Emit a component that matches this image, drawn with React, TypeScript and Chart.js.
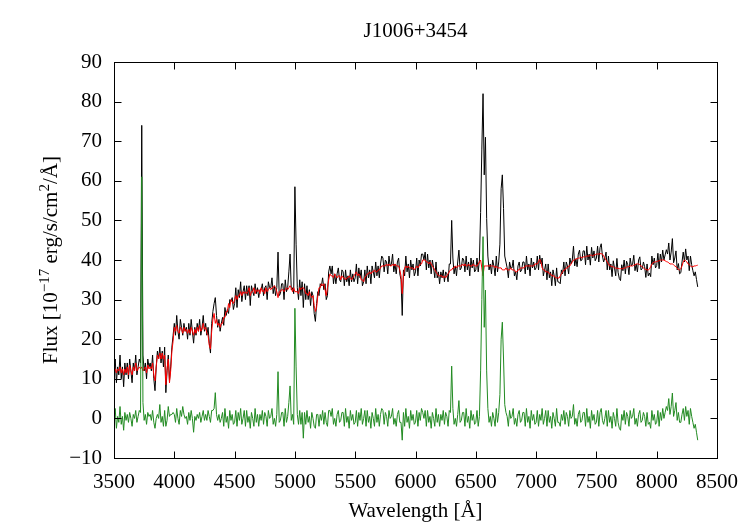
import React, { useEffect, useRef } from "react";
import { Chart, registerables } from "chart.js";

Chart.register(...registerables);

const TITLE = "J1006+3454";
const X_LABEL = "Wavelength [Å]";
const Y_LABEL_PARTS = [
  { text: "Flux [10", sup: false },
  { text: "\u221217", sup: true },
  { text: " erg/s/cm", sup: false },
  { text: "2", sup: true },
  { text: "/Å]", sup: false },
];

// wavelength grid (categories): first sample and spacing in Å
const WAVE_START = 3500;
const WAVE_STEP = 10;

const X_TICKS = [3500, 4000, 4500, 5000, 5500, 6000, 6500, 7000, 7500, 8000, 8500];
const Y_TICKS = [-10, 0, 10, 20, 30, 40, 50, 60, 70, 80, 90];

// observed flux (black), one row = 100 Å
const OBSERVED = [
  12, 15, 9, 13, 11, 16, 10, 13, 8, 14,
  11, 14, 10, 15, 12, 9, 14, 12, 16, 11,
  13, 15, 14, 74, 16, 12, 14, 10, 15, 13,
  14, 12, 16, 10, 7, 13, 17, 15, 18, 14,
  17, 13, 18, 6.5, 12, 16, 9.5, 13, 18, 21,
  24, 21, 26, 22, 20, 25, 23, 21, 24, 22,
  23, 20, 24, 21, 25, 22, 19, 23, 21, 24,
  22, 25, 21, 23, 26, 22, 24, 21, 23, 19,
  16.5, 24, 27, 29, 30.5, 26, 23, 25, 22, 24,
  25.5, 23.5, 28, 26, 27.5, 26.5, 30, 29.5, 30.5, 27.5,
  29, 33, 28, 32.5, 30.5, 34.5, 29.5, 32, 33.5, 30,
  33.5, 31, 33.5, 28.5, 33.5, 32, 31, 34, 31.5, 33,
  30.5, 32.5, 32.5, 34, 31, 33, 33.5, 30, 34.5, 33,
  33, 35.5, 31.5, 33.5, 31, 33, 42, 31, 31.5, 34,
  34, 30, 35, 32, 33, 37, 41.5, 32.5, 33, 31.5,
  58.5, 44, 33, 30, 35, 31, 34.5, 28, 34, 30,
  33.5, 30, 32.5, 28.5, 32, 31, 26.5, 24.5, 29, 32,
  31, 34, 33.5, 35.5, 32.5, 34, 30, 31, 37, 38.5,
  36.5, 38.5, 34, 36.5, 34, 36.5, 38, 35, 34.5, 37.5,
  37, 33.5, 37.5, 34.5, 36, 33.5, 37.5, 34.5, 36.5, 34.5,
  35.5, 39, 34, 38, 35.5, 37.5, 33.5, 34.5, 37.5, 34,
  38.5, 35.5, 37.5, 34, 38.5, 37, 35.5, 39.5, 36, 38.5,
  35.5, 39, 41, 40.5, 37, 40, 39.5, 36.5, 41, 38.5,
  39, 41.5, 37, 39, 36.5, 39.5, 40.5, 36.5, 35, 26,
  37.5, 36, 41, 37, 39, 35.5, 40, 37.5, 39, 36,
  37, 40.5, 36, 40, 38.5, 41.5, 41.5, 40, 42, 37.5,
  41.5, 38, 40, 36.5, 40, 38, 35.5, 39.5, 35.5, 37,
  34, 37, 35.5, 37.5, 34.5, 37, 36.5, 34.5, 39, 39,
  50, 40.5, 36.5, 38.5, 36, 39.5, 42.5, 37.5, 38, 40.5,
  40, 37, 41, 37.5, 39.5, 36, 40.5, 38, 40, 37,
  37.5, 40.5, 37, 40, 52, 68, 82, 61.5, 71, 50.5,
  41, 37.5, 39, 36.5, 40, 38.5, 36, 41, 37, 39.5,
  44, 58, 61.5, 53, 41, 39.5, 38, 35.5, 39.5, 38,
  38, 40, 36, 37, 35, 38.5, 39.5, 37, 37.5, 39.5,
  39.5, 36.5, 41, 37.5, 39, 36, 40.5, 38, 39.5, 37.5,
  38, 41, 37.5, 41.2, 39, 40.5, 36, 37.5, 39, 35,
  39, 35.5, 37, 33.5, 37.5, 36, 33.5, 38, 34.5, 34.4,
  34, 37.5, 36.5, 39.5, 36, 39.5, 38.5, 36.5, 40.5, 39,
  40, 43.5, 38.5, 40.3, 38.3, 41.5, 42.5, 39.8, 40, 42.3,
  42.3, 38.8, 43.5, 40, 41.5, 38.7, 43.2, 40.5, 42.3, 39.8,
  40.5, 43.5, 39.5, 43.1, 44.1, 41, 39.5, 40.5, 42, 37.5,
  41, 37.5, 39, 35.8, 39.8, 38, 36, 40.4, 36.9, 35.3,
  34.8, 38.8, 37.3, 40, 36.5, 39.7, 38.8, 36.3, 40.5, 38.5,
  39, 41.2, 37.3, 39, 37, 40, 40.8, 37.5, 37.8, 39.5,
  38.3, 35.6, 39, 36, 36.7, 35.8, 41, 38.8, 40.5, 38,
  38.6, 41.7, 37.8, 41.5, 39.5, 42.5, 40, 41.3, 42.6, 41.5,
  44.3, 40, 42, 45.4, 39.3, 40.5, 42.3, 37.5, 39.1, 36.5,
  36.8, 39.5, 42, 39.5, 42.8, 40, 41, 37.3, 41, 38.8,
  37.3, 36, 37, 35.1, 33.2,
];

// model fit (red)
const MODEL = [
  12, 12.5, 11.5, 12.5, 12, 13, 11.5, 12.5, 11, 12.5,
  11.5, 13, 11, 13.5, 12, 11, 13, 12, 14, 12,
  12.5, 13, 12.5, 13, 12, 12.5, 13, 11.5, 13.5, 12.5,
  13, 12.5, 14, 11, 9.5, 13, 16, 15, 16.5, 15,
  16.5, 15, 16, 8.5, 12.5, 15, 9, 12, 17, 19.5,
  23, 22, 23.5, 22, 21.5, 23, 22.5, 21.5, 23, 22,
  22.5, 21.5, 22.5, 21.5, 23, 22, 21, 22.5, 21.5, 23,
  22, 23.5, 22, 22.5, 24, 22.5, 23, 21.5, 21, 18.5,
  17.5, 22, 25, 26.5, 24, 25, 23.5, 24, 23, 24,
  24, 25.5, 25.5, 27, 27, 29, 28, 30, 29.5, 29,
  30, 31, 30, 31, 31, 32, 31, 32, 31.5, 32,
  31.5, 32, 33, 31, 32, 32, 33, 31.5, 32.5, 32,
  32.5, 31.5, 33, 32, 32.5, 31.5, 33, 32, 32.5, 33,
  32.5, 33, 33, 33.5, 33, 32, 30.5, 32, 32, 32.5,
  32.5, 32, 32.5, 33, 32.5, 33, 33.5, 33, 32, 33,
  32, 32, 32, 31.5, 33, 32.5, 33, 33, 32.5, 31.5,
  31.5, 31, 32, 31, 30.5, 31, 28.5, 27, 28, 31,
  33, 33, 34, 33.5, 34, 32.5, 31, 33, 35, 36.5,
  36, 36, 35.5, 36.5, 36, 35.5, 36, 36, 35, 36,
  35.5, 35.5, 35, 35.5, 35.5, 36, 35.5, 35, 35.5, 36,
  36.5, 37, 36, 36.5, 36, 35, 35, 34.5, 35.5, 36,
  36.5, 36.5, 37, 36.5, 37, 37, 37.5, 37, 37, 37.5,
  37.5, 38, 38.5, 38.5, 38.5, 38.5, 39, 38.5, 39, 38.5,
  38.5, 39, 38.5, 39, 38.5, 38.5, 38.5, 37.5, 36, 31.5,
  36, 38, 38.5, 38, 38.5, 38, 38, 38, 38, 37.5,
  38, 38.5, 38, 38.5, 39, 39, 40, 40, 40, 39.5,
  39.5, 39, 39.5, 39, 38.5, 38, 37.5, 37, 36.5, 36,
  36, 36, 36, 35.5, 36, 35.5, 36, 36.5, 37, 37.5,
  37.5, 38, 38, 38.5, 38, 38.5, 38.5, 38.5, 38.5, 39,
  38.5, 39, 38.5, 38.5, 39, 38.5, 38.5, 38.5, 39, 38.5,
  38.5, 38.5, 39, 39.5, 40, 38, 36, 38.5, 38.5, 38.5,
  38.5, 38.5, 38.5, 38.5, 38.5, 38.5, 38, 38.5, 38, 38,
  38, 38, 37.5, 37.5, 37.5, 38, 37.5, 37.5, 37.5, 38,
  37.5, 37.5, 37.5, 37, 37, 37.5, 37.5, 38, 38, 38,
  38, 38.5, 38.5, 38.5, 38.5, 38.5, 38.5, 38.5, 38.5, 39,
  39, 39, 39.5, 40.2, 39.5, 38, 37.5, 37.5, 37, 37,
  37, 36.5, 36.5, 36, 36, 36, 35.5, 35.5, 35.5, 35.4,
  36, 36.5, 37, 37.5, 37.5, 38, 38, 38.5, 38.5, 39,
  39.5, 40, 40, 40.3, 40.3, 40.5, 40.5, 40.8, 40.5, 40.8,
  40.8, 40.8, 41, 41, 41, 41.2, 41.2, 41, 41.3, 41.3,
  41.5, 41.5, 41.5, 41.6, 41.6, 41.5, 41, 40.5, 40, 39.5,
  39, 38.5, 38.5, 38.3, 38.3, 38, 38, 37.9, 37.9, 37.8,
  37.8, 37.8, 37.8, 38, 38, 38.2, 38.3, 38.3, 38.5, 38.5,
  38.5, 38.7, 38.8, 39, 39, 39, 38.8, 38.5, 38.3, 38,
  37.8, 37.6, 37.5, 37.5, 37.7, 38.3, 39, 39.3, 39.5, 39.5,
  39.6, 39.7, 39.8, 40, 40, 40, 40, 39.8, 39.6, 39.5,
  39.3, 39, 39, 39, 38.8, 38.5, 38.3, 38, 37.6, 37.5,
  37.8, 38.5, 39.5, 40, 39.8, 39.5, 39, 38.8, 38.5, 38.3,
  38.3, 38.5, 38.5, 38.6, 38.7,
];

// residual = emission-line spectrum (green)
const RESIDUAL = [
  0, 2.5, -2.5, 0.5, -1, 3, -1.5, 0.5, -3, 1.5,
  -0.5, 1, -1, 1.5, 0, -2, 1, 0, 2, -1,
  0.5, 2, 1.5, 61, 4, -0.5, 1, -1.5, 1.5, 0.5,
  1, -0.5, 2, -1, -2.5, 0, 1, 0, 3.5, -1,
  0.5, -2, 2, -2, -0.5, 3, 0.5, 1, 1, 1.5,
  1, -1, 2.5, 0, -1.5, 2, 0.5, 3, 1, 0,
  0.5, -1.5, 1.5, -0.5, 2, 0, -3.5, 0.5, -0.5, 1,
  0, 1.5, -1, 0.5, 2, -0.5, 1, -0.5, 2, 0.5,
  -1, 2, 2, 2.5, 6.5, 1, -0.5, 1, -1, 0,
  1.5, -2, 2.5, -1, 0.5, -2.5, 2, -0.5, 1, -1.5,
  -1, 2, -2, 1.5, -0.5, 2.5, -1.5, 0, 2, -2,
  2, -1, 0.5, -2.5, 1.5, 0, -2, 2.5, -1, 1,
  -2, 1, -0.5, 2, -1.5, 1.5, 0.5, -2, 2, 0,
  0.5, 2.5, -1.5, 0, -2, 1, 11.8, -1, -0.5, 1.5,
  1.5, -2, 2.5, -1, 0.5, 4, 8.2, -0.5, 1, -1.5,
  27.8, 13, 1, -1.5, 2, -1.5, 1.5, -5, 1.5, -1.5,
  2, -1, 0.5, -2.5, 1.5, 0, -2, -2.5, 1, 1,
  -2, 1, -0.5, 2, -1.5, 1.5, -1, -2, 2, 2,
  0.5, 2.5, -1.5, 0, -2, 1, 2, -1, -0.5, 1.5,
  1.5, -2, 2.5, -1, 0.5, -2.5, 2, -0.5, 1, -1.5,
  -1, 2, -2, 1.5, -0.5, 2.5, -1.5, 0, 2, -2,
  2, -1, 0.5, -2.5, 1.5, 0, -2, 2.5, -1, 1,
  -2, 1, 2.5, 2, -1.5, 1.5, 0.5, -2, 2, 0,
  0.5, 2.5, -1.5, 0, -2, 1, 2, -1, -1, -5.5,
  1.5, -2, 2.5, -1, 0.5, -2.5, 2, -0.5, 1, -1.5,
  -1, 2, -2, 1.5, -0.5, 2.5, 1.5, 0, 2, -2,
  2, -1, 0.5, -2.5, 1.5, 0, -2, 2.5, -1, 1,
  -2, 1, -0.5, 2, -1.5, 1.5, 0.5, -2, 2, 1.5,
  13.2, 2.5, -1.5, 0, -2, 1, 4.5, -1, -0.5, 1.5,
  1.5, -2, 2.5, -1, 0.5, -2.5, 2, -0.5, 1, -1.5,
  -1, 2, -2, 0.5, 12, 30, 45.9, 23, 32.4, 12,
  2.5, -1, 0.5, -2, 1.5, 0, -2, 2.5, -1, 1.5,
  6, 20, 24.3, 15, 3.5, 1.5, 0.5, -2, 2, 0,
  0.5, 2.5, -1.5, 0, -2, 1, 2, -1, -0.5, 1.5,
  1.5, -2, 2.5, -1, 0.5, -2.5, 2, -0.5, 1, -1.5,
  -1, 2, -2, 1, -0.5, 2.5, -1.5, 0, 2, -2,
  2, -1, 0.5, -2.5, 1.5, 0, -2, 2.5, -1, -1,
  -2, 1, -0.5, 2, -1.5, 1.5, 0.5, -2, 2, 0,
  0.5, 3.5, -1.5, 0, -2, 1, 2, -1, -0.5, 1.5,
  1.5, -2, 2.5, -1, 0.5, -2.5, 2, -0.5, 1, -1.5,
  -1, 2, -2, 1.5, 2.5, -0.5, -1.5, 0, 2, -2,
  2, -1, 0.5, -2.5, 1.5, 0, -2, 2.5, -1, -2.5,
  -3, 1, -0.5, 2, -1.5, 1.5, 0.5, -2, 2, 0,
  0.5, 2.5, -1.5, 0, -2, 1, 2, -1, -0.5, 1.5,
  0.5, -2, 1.5, -1.5, -1, -2.5, 2, -0.5, 1, -1.5,
  -1, 2, -2, 1.5, -0.5, 2.5, 0, 1.5, 3, 2,
  5, 1, 3, 6.4, 0.5, 2, 4, -0.5, 1.5, -1,
  -1, 1, 2.5, -0.5, 3, 0.5, 2, -1.5, 2.5, 0.5,
  -1, -2.5, -1.5, -3.5, -5.5,
];

const FONT = '"Liberation Serif", "Times New Roman", Times, serif';
const FONT_SIZE = 21;
const SUP_SIZE = 15;

export default function App() {
  const ref = useRef<HTMLCanvasElement | null>(null);

  useEffect(() => {
    const canvas = ref.current;
    if (!canvas) return;
    const wave = OBSERVED.map((_, i) => WAVE_START + i * WAVE_STEP);
    const toPoints = (arr: number[]) => arr.map((v, i) => ({ x: wave[i], y: v }));

    const framePlugin = {
      id: "gnuFrame",
      beforeDraw(chart: any) {
        const ctx = chart.ctx;
        ctx.save();
        ctx.fillStyle = "#ffffff";
        ctx.fillRect(0, 0, chart.width, chart.height);
        ctx.restore();
      },
      afterDraw(chart: any) {
        const ctx = chart.ctx;
        const a = chart.chartArea;
        const xs = chart.scales.x;
        const ys = chart.scales.y;
        const L = Math.round(a.left) + 0.5;
        const R = Math.round(a.right) + 0.5;
        const T = Math.round(a.top) + 0.5;
        const B = Math.round(a.bottom) + 0.5;
        const tick = 7;
        ctx.save();
        ctx.strokeStyle = "#000";
        ctx.lineWidth = 1;
        ctx.beginPath();
        X_TICKS.forEach((v) => {
          const px = Math.round(xs.getPixelForValue(v)) + 0.5;
          ctx.moveTo(px, B);
          ctx.lineTo(px, B - tick);
          ctx.moveTo(px, T);
          ctx.lineTo(px, T + tick);
        });
        Y_TICKS.forEach((v) => {
          const py = Math.round(ys.getPixelForValue(v)) + 0.5;
          ctx.moveTo(L, py);
          ctx.lineTo(L + tick, py);
          ctx.moveTo(R, py);
          ctx.lineTo(R - tick, py);
        });
        ctx.stroke();
        ctx.strokeRect(L, T, R - L, B - T);

        ctx.fillStyle = "#000";
        ctx.font = `${FONT_SIZE}px ${FONT}`;
        ctx.textAlign = "center";
        ctx.textBaseline = "middle";
        const cx = (a.left + a.right) / 2;
        ctx.fillText(TITLE, cx, 31);
        ctx.fillText(X_LABEL, cx, 511);

        // rotated y label with superscripts
        const widths = Y_LABEL_PARTS.map((p) => {
          ctx.font = `${p.sup ? SUP_SIZE : FONT_SIZE}px ${FONT}`;
          return ctx.measureText(p.text).width;
        });
        const total = widths.reduce((s, w) => s + w, 0);
        ctx.translate(57, (a.top + a.bottom) / 2);
        ctx.rotate(-Math.PI / 2);
        ctx.textAlign = "left";
        ctx.textBaseline = "alphabetic";
        let x = -total / 2;
        Y_LABEL_PARTS.forEach((p, i) => {
          ctx.font = `${p.sup ? SUP_SIZE : FONT_SIZE}px ${FONT}`;
          ctx.fillText(p.text, x, p.sup ? -8 : 0);
          x += widths[i];
        });
        ctx.restore();
      },
    };

    const chart = new Chart(canvas, {
      type: "line",
      data: {
        datasets: [
          {
            label: "residual",
            data: toPoints(RESIDUAL),
            borderColor: "#228b22",
            borderWidth: 1,
            pointRadius: 0,
            tension: 0,
          },
          {
            label: "model",
            data: toPoints(MODEL),
            borderColor: "#ff0000",
            borderWidth: 1,
            pointRadius: 0,
            tension: 0,
          },
          {
            label: "observed",
            data: toPoints(OBSERVED),
            borderColor: "#000000",
            borderWidth: 1,
            pointRadius: 0,
            tension: 0,
          },
        ],
      },
      options: {
        responsive: false,
        animation: false,
        events: [],
        layout: { padding: { top: 62, right: 31, left: 0, bottom: 0 } },
        plugins: {
          legend: { display: false },
          tooltip: { enabled: false },
          title: { display: false },
        },
        scales: {
          x: {
            type: "linear",
            min: 3500,
            max: 8500,
            afterBuildTicks: (s: any) => {
              s.ticks = X_TICKS.map((v) => ({ value: v }));
            },
            afterFit: (s: any) => {
              s.height = 67;
            },
            grid: { display: false, drawTicks: false },
            border: { display: false },
            ticks: {
              autoSkip: false,
              maxRotation: 0,
              minRotation: 0,
              padding: 12,
              color: "#000",
              font: { family: FONT, size: FONT_SIZE },
              callback: (v: any) => String(v),
            },
          },
          y: {
            type: "linear",
            min: -10,
            max: 90,
            afterBuildTicks: (s: any) => {
              s.ticks = Y_TICKS.map((v) => ({ value: v }));
            },
            afterFit: (s: any) => {
              s.width = 114;
            },
            grid: { display: false, drawTicks: false },
            border: { display: false },
            ticks: {
              autoSkip: false,
              padding: 12,
              color: "#000",
              font: { family: FONT, size: FONT_SIZE },
              callback: (v: any) => (v < 0 ? "\u2212" + Math.abs(v) : String(v)),
            },
          },
        },
      },
      plugins: [framePlugin],
    } as any);

    return () => chart.destroy();
  }, []);

  return (
    <div style={{ position: "fixed", left: 0, top: 0, width: 750, height: 525, background: "#fff" }}>
      <canvas ref={ref} width={750} height={525} style={{ display: "block", width: 750, height: 525 }} />
    </div>
  );
}
